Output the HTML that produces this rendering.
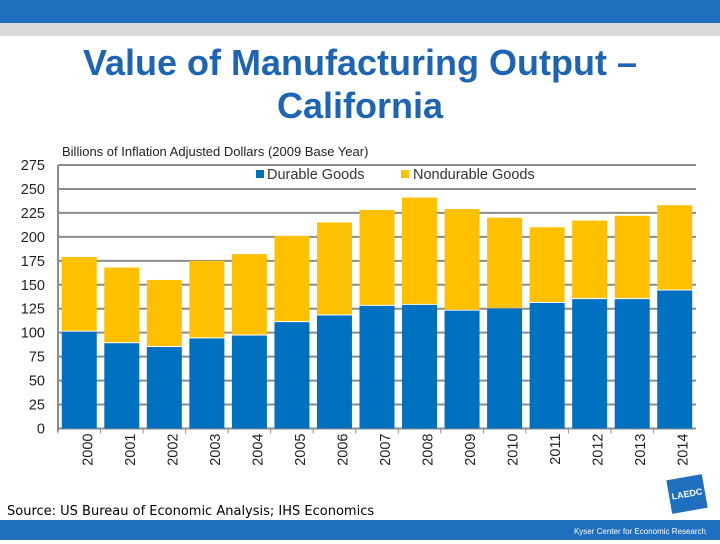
<!DOCTYPE html>
<html><head><meta charset="utf-8"><style>
body{margin:0;width:720px;height:540px;overflow:hidden;background:#fff;font-family:"Liberation Sans",sans-serif;position:relative}
</style></head><body>
<div style="position:absolute;left:0;top:0;width:720px;height:23px;background:#1f6fbf"></div>
<div style="position:absolute;left:0;top:23px;width:720px;height:13px;background:#d9d9d9"></div>
<div style="position:absolute;left:0;top:41px;width:720px;text-align:center;font-weight:bold;font-size:36px;line-height:43px;color:#1e64b4">Value of Manufacturing Output –<br>California</div>
<svg id="chart" width="720" height="540" style="position:absolute;left:0;top:0"></svg>
<div style="position:absolute;left:7px;top:504px;font-size:13px;color:#000;font-family:'DejaVu Sans',sans-serif">Source: US Bureau of Economic Analysis; IHS Economics</div>
<div style="position:absolute;left:669px;top:477px;width:36px;height:34px;background:#1f6fbf;transform:rotate(-10deg);color:#fff;font-size:9px;font-weight:bold;line-height:34px;text-align:center">LAEDC</div>
<div style="position:absolute;left:0;top:520px;width:720px;height:20px;background:#1f6fbf;color:#fff;font-size:8px;line-height:24px;text-align:right;padding-right:0"><span style="position:absolute;right:14px">Kyser Center for Economic Research</span></div>
<script>
const years=["2000","2001","2002","2003","2004","2005","2006","2007","2008","2009","2010","2011","2012","2013","2014"];
const durable=[101,89,85,94,97,111,118,128,129,123,125,131,135,135,144];
const totals=[179,168,155,175,182,201,215,228,241,229,220,210,217,222,233];
const ticks=[0,25,50,75,100,125,150,175,200,225,250,275];
const svg=document.getElementById('chart');const NS='http://www.w3.org/2000/svg';
const x0=58,x1=696,y0=428.5,yTop=165;
const y=v=>y0-(v/275)*(y0-yTop);
const band=(x1-x0)/years.length,bw=35;
function mk(t,a){const e=document.createElementNS(NS,t);for(const k in a)e.setAttribute(k,a[k]);svg.appendChild(e);return e;}
ticks.forEach(t=>{
 const l=mk('line',{x1:x0,x2:x1,y1:y(t),y2:y(t),stroke:'#8c8c8c','stroke-width':2});
 
 const tx=mk('text',{x:45,y:y(t)+5,'text-anchor':'end','font-size':14.5,fill:'#222'});tx.textContent=t;
 
});
const ax=mk('line',{x1:x0,x2:x0,y1:yTop,y2:y0+3,stroke:'#8c8c8c','stroke-width':2});

const xa=mk('line',{x1:x0,x2:x1,y1:y0,y2:y0,stroke:'#8c8c8c','stroke-width':2});

years.forEach((yr,i)=>{
 const cx=x0+band*(i+0.5);
 const tk=mk('line',{x1:x0+band*i,x2:x0+band*i,y1:y0,y2:y0+5,stroke:'#8c8c8c','stroke-width':1});
 
 const r1=mk('rect',{x:cx-bw/2,y:y(durable[i]),width:bw,height:y0-y(durable[i]),fill:'#0070c0'});
 
 const r2=mk('rect',{x:cx-bw/2,y:y(totals[i]),width:bw,height:y(durable[i])-y(totals[i])-1,fill:'#ffc000'});
 
 const t=mk('text',{x:0,y:0,'font-size':14.5,fill:'#222','text-anchor':'end',transform:`translate(${cx+13},${y0+5}) rotate(-90)`});t.textContent=yr;
 
});
const st=mk('text',{x:62,y:156,'font-size':13,fill:'#222'});st.textContent='Billions  of Inflation Adjusted Dollars (2009 Base Year)';

const lg1=mk('rect',{x:256,y:170,width:8,height:8,fill:'#0070c0'});

const lt1=mk('text',{x:267,y:179,'font-size':14.5,fill:'#333'});lt1.textContent='Durable Goods';

const lg2=mk('rect',{x:401,y:170,width:8,height:8,fill:'#ffc000'});

const lt2=mk('text',{x:413,y:179,'font-size':14.5,fill:'#333'});lt2.textContent='Nondurable Goods';

</script>
</body></html>
